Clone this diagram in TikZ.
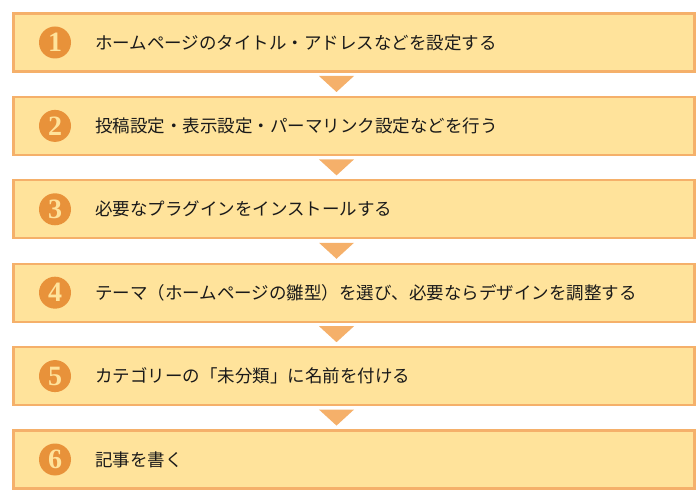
\documentclass[tikz,border=0pt]{standalone}
\usepackage{fontspec}
\usetikzlibrary{calc}
\newfontfamily\jp{Noto Sans CJK JP}
\newfontfamily\numfont{Liberation Serif}
\definecolor{boxfill}{HTML}{FFE39B}
\definecolor{boxline}{HTML}{F5B06A}
\definecolor{numcol}{HTML}{E8923A}
\definecolor{txt}{HTML}{1A1A1A}
\begin{document}
\begin{tikzpicture}[x=1pt,y=1pt,
  stepbox/.style={draw=boxline,line width=2.2pt,fill=boxfill,minimum width=681pt,minimum height=58pt,inner sep=0pt},
  numcirc/.style={circle,fill=numcol,minimum size=32pt,inner sep=0pt,text=boxfill,font=\numfont\bfseries\fontsize{28}{28}\selectfont},
  label/.style={anchor=west,text=txt,font=\jp\fontsize{17.5}{20}\selectfont,inner sep=0pt},
  tri/.style={fill=boxline}]
\useasboundingbox (0,0) rectangle (700,500);
\foreach \i/\t in {1/{ホームページのタイトル・アドレスなどを設定する},
  2/{投稿設定・表示設定・パーマリンク設定などを行う},
  3/{必要なプラグインをインストールする},
  4/{テーマ（ホームページの雛型）を選び、必要ならデザインを調整する},
  5/{カテゴリーの「未分類」に名前を付ける},
  6/{記事を書く}}{
  \pgfmathsetmacro{\yc}{500-42.5-83.4*(\i-1)}
  \node[stepbox] (b\i) at (354,\yc) {};
  \node[numcirc] (n\i) at (55,\yc) {\i};
  \node[label] (t\i) at (95,\yc) {\t};
}
\foreach \i in {1,...,5}{
  \pgfmathsetmacro{\ya}{500-42.5-83.4*(\i-1)-33.5}
  \coordinate (a\i) at (336.5,\ya);
  \fill[tri] ($(a\i)+(-17.5,0)$) -- ($(a\i)+(17.5,0)$) -- ($(a\i)+(0,-16)$) -- cycle;
}
\end{tikzpicture}
\end{document}
